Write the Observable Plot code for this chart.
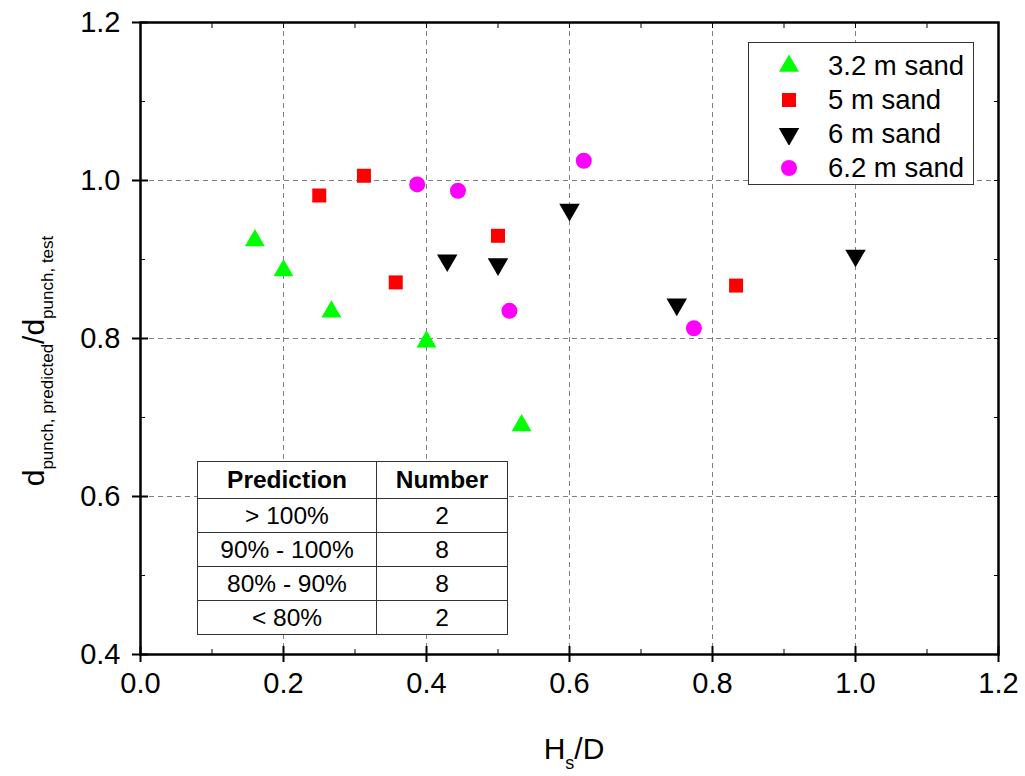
<!DOCTYPE html>
<html><head><meta charset="utf-8">
<script src="https://cdn.jsdelivr.net/npm/d3@7"></script>
<script src="https://cdn.jsdelivr.net/npm/@observablehq/plot@0.6"></script>
<style>
body{margin:0;background:#fff;font-family:"Liberation Sans",Arial,sans-serif;}
#wrap{position:relative;width:1025px;height:776px;overflow:hidden;}
#legend{position:absolute;left:748px;top:42px;width:226px;height:143px;border:1px solid #333;background:#fff;box-sizing:border-box;padding-top:6px;}
#legend .row{height:34px;display:flex;align-items:center;font-size:27.5px;color:#000;white-space:nowrap;}
#legend .row svg{margin-left:29px;margin-right:28px;}
#tbl{position:absolute;left:197px;top:461px;border-collapse:collapse;background:#fff;font-size:24.5px;color:#000;}
#tbl td,#tbl th{border:1px solid #333;text-align:center;padding:0;}
#tbl th{height:36px;font-weight:bold;}
#tbl td{height:33px;}
</style></head><body><div id="wrap"></div>
<script>
// ---- data ----
const seriesNames = ["3.2 m sand", "5 m sand", "6 m sand", "6.2 m sand"];
const hsd_32 = [0.16, 0.2, 0.267, 0.4, 0.533];
const ratio_32 = [0.924, 0.886, 0.834, 0.796, 0.690];
const hsd_5 = [0.25, 0.3125, 0.357, 0.5, 0.833];
const ratio_5 = [0.981, 1.006, 0.871, 0.930, 0.867];
const hsd_6 = [0.429, 0.5, 0.6, 0.75, 1.0];
const ratio_6 = [0.899, 0.894, 0.963, 0.843, 0.905];
const hsd_62 = [0.387, 0.444, 0.516, 0.62, 0.774];
const ratio_62 = [0.995, 0.987, 0.835, 1.025, 0.813];
const xTicks = [0, 0.2, 0.4, 0.6, 0.8, 1.0, 1.2];
const yTicks = [0.4, 0.6, 0.8, 1.0, 1.2];
const xMinor = [0.1, 0.3, 0.5, 0.7, 0.9, 1.1];
const yMinor = [0.5, 0.7, 0.9, 1.1];
const xGrid = [0.2, 0.4, 0.6, 0.8, 1.0];
const yGrid = [0.6, 0.8, 1.0];
const tableHeader = ["Prediction", "Number"];
const tableRanges = ["> 100%", "90% - 100%", "80% - 90%", "< 80%"];
const tableCounts = [2, 8, 8, 2];

const colors = ["#00ff00", "#ff0000", "#000000", "#ff00ff"];
const zip = (xs, ys) => xs.map((x, i) => ({x, y: ys[i]}));
const d32 = zip(hsd_32, ratio_32), d5 = zip(hsd_5, ratio_5), d6 = zip(hsd_6, ratio_6), d62 = zip(hsd_62, ratio_62);

const fmt = d => d.toFixed(1);
const none = () => "";
const chart = Plot.plot({
  width: 1025, height: 776,
  marginLeft: 140, marginRight: 27, marginTop: 22, marginBottom: 122,
  style: {fontFamily: "'Liberation Sans', Arial, sans-serif", background: "#fff", color: "#000"},
  x: {domain: [0, 1.2]},
  y: {domain: [0.4, 1.2]},
  marks: [
    Plot.gridX(xGrid, {stroke: "#808080", strokeOpacity: 1, strokeDasharray: "5,4", strokeWidth: 1}),
    Plot.gridY(yGrid, {stroke: "#808080", strokeOpacity: 1, strokeDasharray: "5,4", strokeWidth: 1}),
    Plot.axisX(xTicks, {anchor: "bottom", tickSize: 8, tickPadding: 10, tickFormat: fmt, fontSize: 29, label: null, strokeWidth: 2}),
    Plot.axisY(yTicks, {anchor: "left", tickSize: 8, tickPadding: 12, tickFormat: fmt, fontSize: 29, label: null, strokeWidth: 2}),
    Plot.axisX(xTicks, {anchor: "bottom", tickSize: -8, tickFormat: none, label: null, strokeWidth: 2}),
    Plot.axisY(yTicks, {anchor: "left", tickSize: -8, tickFormat: none, label: null, strokeWidth: 2}),
    Plot.axisX(xMinor, {anchor: "bottom", tickSize: -5, tickFormat: none, label: null, strokeWidth: 1}),
    Plot.axisY(yMinor, {anchor: "left", tickSize: -5, tickFormat: none, label: null, strokeWidth: 1}),
    Plot.axisX(xTicks.concat(xMinor), {anchor: "top", tickSize: -5, tickFormat: none, label: null, strokeWidth: 1}),
    Plot.axisY(yTicks.concat(yMinor), {anchor: "right", tickSize: -5, tickFormat: none, label: null, strokeWidth: 1}),
    Plot.frame({stroke: "#000", strokeWidth: 2.5}),
    Plot.dot(d32, {x: "x", y: "y", symbol: "triangle", fill: colors[0], r: 7.4}),
    Plot.dot(d5, {x: "x", y: "y", symbol: "square", fill: colors[1], r: 7.9}),
    Plot.dot(d6, {x: "x", y: "y", symbol: "triangle", rotate: 180, fill: colors[2], r: 7.6}),
    Plot.dot(d62, {x: "x", y: "y", symbol: "circle", fill: colors[3], r: 8})
  ]
});
const wrap = document.getElementById("wrap");
wrap.appendChild(chart);

// axis titles with subscripts
const svg = d3.select(chart);
const xl = svg.append("text").attr("x", 574).attr("y", 759).attr("text-anchor", "middle")
  .attr("font-size", 30).attr("fill", "#000");
xl.append("tspan").text("H");
xl.append("tspan").attr("font-size", 18).attr("dy", 10).text("s");
xl.append("tspan").attr("dy", -10).text("/D");

const yl = svg.append("text").attr("transform", "translate(44,361) rotate(-90)").attr("text-anchor", "middle")
  .attr("font-size", 30).attr("fill", "#000");
yl.append("tspan").text("d");
yl.append("tspan").attr("font-size", 17).attr("dy", 9).text("punch, predicted");
yl.append("tspan").attr("dy", -9).text("/d");
yl.append("tspan").attr("font-size", 17).attr("dy", 9).text("punch, test");

// legend
const legend = document.createElement("div");
legend.id = "legend";
const symPaths = [
  d3.symbol(d3.symbolTriangle, Math.PI * 7.4 * 7.4)(),
  d3.symbol(d3.symbolSquare, Math.PI * 7.9 * 7.9)(),
  d3.symbol(d3.symbolTriangle, Math.PI * 7.6 * 7.6)(),
  d3.symbol(d3.symbolCircle, Math.PI * 8 * 8)()
];
seriesNames.forEach((name, i) => {
  const row = document.createElement("div");
  row.className = "row";
  const rot = i === 2 ? " rotate(180)" : "";
  row.innerHTML = `<svg width="22" height="22"><path d="${symPaths[i]}" transform="translate(11,11)${rot}" fill="${colors[i]}"/></svg><span>${name}</span>`;
  legend.appendChild(row);
});
wrap.appendChild(legend);

// table
const tbl = document.createElement("table");
tbl.id = "tbl";
let html = `<tr><th style="width:178px">${tableHeader[0]}</th><th style="width:130px">${tableHeader[1]}</th></tr>`;
tableRanges.forEach((r, i) => { html += `<tr><td>${r}</td><td>${tableCounts[i]}</td></tr>`; });
tbl.innerHTML = html;
wrap.appendChild(tbl);
</script>
</body></html>
